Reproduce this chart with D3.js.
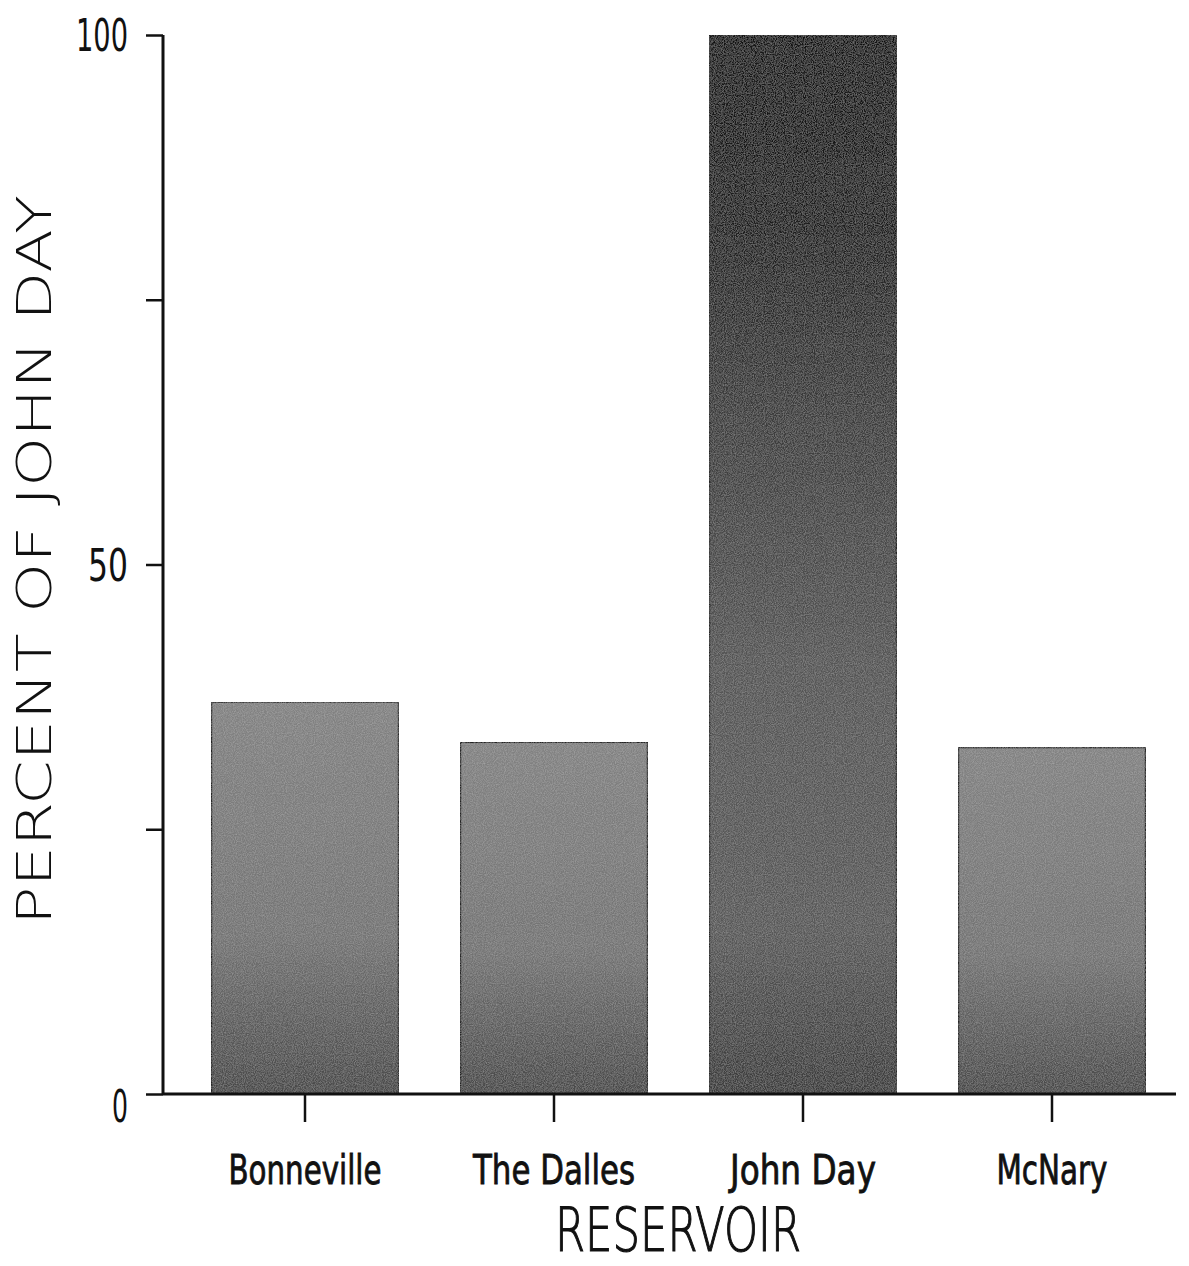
<!DOCTYPE html>
<html>
<head>
<meta charset="utf-8">
<script src="https://cdn.jsdelivr.net/npm/d3@7"></script>
<style>
  body { margin: 0; background: #fff; }
  svg { display: block; }
  text { fill: #111; }
</style>
</head>
<body>
<div id="chart"></div>
<script>
// Data
const reservoirs = ["Bonneville", "The Dalles", "John Day", "McNary"];
const percentValues = [37.0, 33.2, 100, 32.7];
const yTicks = [0, 25, 50, 75, 100];
const yTickLabels = ["0", "", "50", "", "100"];

const W = 1189, H = 1266;
const svg = d3.select("#chart").append("svg")
    .attr("width", W)
    .attr("height", H);

const axisX = 163, axisRight = 1176;
const y0 = 1094, y100 = 35;

const x = d3.scaleBand()
    .domain(reservoirs)
    .range([180.5, 1176.5])
    .paddingInner(0.25)
    .paddingOuter(0.125);

const y = d3.scaleLinear().domain([0, 100]).range([y0, y100]);

// gradients for the shaded bars
const defs = svg.append("defs");
const gLight = defs.append("linearGradient").attr("id", "gLight")
    .attr("x1", 0).attr("y1", 0).attr("x2", 0).attr("y2", 1);
gLight.append("stop").attr("offset", "0%").attr("stop-color", "#828282");
gLight.append("stop").attr("offset", "60%").attr("stop-color", "#737373");
gLight.append("stop").attr("offset", "100%").attr("stop-color", "#484848");

const gDark = defs.append("linearGradient").attr("id", "gDark")
    .attr("x1", 0).attr("y1", 0).attr("x2", 0).attr("y2", 1);
gDark.append("stop").attr("offset", "0%").attr("stop-color", "#111");
gDark.append("stop").attr("offset", "18%").attr("stop-color", "#1e1e1e");
gDark.append("stop").attr("offset", "35%").attr("stop-color", "#3a3a3a");
gDark.append("stop").attr("offset", "60%").attr("stop-color", "#555");
gDark.append("stop").attr("offset", "85%").attr("stop-color", "#585858");
gDark.append("stop").attr("offset", "100%").attr("stop-color", "#3a3a3a");

// grain
const grain = defs.append("filter").attr("id", "grain")
    .attr("x", 0).attr("y", 0).attr("width", 1).attr("height", 1);
grain.append("feTurbulence").attr("type", "fractalNoise")
    .attr("baseFrequency", 0.9).attr("numOctaves", 2).attr("result", "noise");
grain.append("feColorMatrix").attr("in", "noise").attr("type", "matrix")
    .attr("values", "0 0 0 0 1  0 0 0 0 1  0 0 0 0 1  0 0 0 0.3 -0.1")
    .attr("result", "specks");
grain.append("feComposite").attr("in", "specks").attr("in2", "SourceGraphic")
    .attr("operator", "in").attr("result", "sp");
grain.append("feMerge").call(m => {
    m.append("feMergeNode").attr("in", "SourceGraphic");
    m.append("feMergeNode").attr("in", "sp");
});

// bars
svg.append("g")
    .selectAll("rect")
    .data(reservoirs.map((r, i) => ({name: r, value: percentValues[i]})))
    .join("rect")
    .attr("x", d => x(d.name))
    .attr("y", d => y(d.value))
    .attr("width", x.bandwidth())
    .attr("height", d => y(0) - y(d.value))
    .attr("fill", d => d.value >= 100 ? "url(#gDark)" : "url(#gLight)")
    .attr("stroke", "#222")
    .attr("stroke-width", 1.2)
    .attr("filter", "url(#grain)");

// y axis
const yAxis = svg.append("g")
    .attr("transform", `translate(${axisX},0)`)
    .call(d3.axisLeft(y).tickValues(yTicks).tickSize(17).tickFormat((d, i) => yTickLabels[i]).tickSizeOuter(0));
yAxis.select(".domain").attr("stroke", "#111").attr("stroke-width", 3)
    .attr("d", `M0,${y0}V${y100}`);
yAxis.selectAll(".tick line").attr("stroke", "#111").attr("stroke-width", 2.5);
yAxis.selectAll(".tick text")
    .attr("x", -35)
    .attr("font-family", "'DejaVu Sans', sans-serif")
    .attr("font-size", 44)
    .attr("dy", "0.36em")
    .attr("fill", "#111")
    .attr("textLength", d => ({0: 16, 50: 40, 100: 52})[d])
    .attr("lengthAdjust", "spacingAndGlyphs");
yAxis.selectAll(".tick").filter(d => d === 0).select("text").attr("dy", "0.62em");

// x axis
const xAxis = svg.append("g")
    .attr("transform", `translate(0,${y0})`)
    .call(d3.axisBottom(x).tickSize(28).tickSizeOuter(0).tickPadding(33));
xAxis.select(".domain").attr("stroke", "#111").attr("stroke-width", 3)
    .attr("d", `M${axisX},0H${axisRight}`);
xAxis.selectAll(".tick line").attr("stroke", "#111").attr("stroke-width", 2.5);
xAxis.selectAll(".tick text")
    .attr("font-family", "'DejaVu Sans Condensed', 'DejaVu Sans', sans-serif")
    .attr("font-size", 41)
    .attr("fill", "#111")
    .attr("stroke", "#111")
    .attr("stroke-width", 0.8)
    .attr("textLength", d => ({"Bonneville": 153, "The Dalles": 162, "John Day": 146, "McNary": 111})[d])
    .attr("lengthAdjust", "spacingAndGlyphs");

// axis titles
svg.append("text")
    .attr("x", 678)
    .attr("y", 1251)
    .attr("text-anchor", "middle")
    .attr("font-family", "'DejaVu Sans', sans-serif")
    .attr("font-weight", 200)
    .attr("font-size", 60)
    .attr("stroke", "#111")
    .attr("stroke-width", 1.2)
    .attr("textLength", 246)
    .attr("lengthAdjust", "spacingAndGlyphs")
    .text("RESERVOIR");

svg.append("text")
    .attr("transform", "translate(51,560) rotate(-90)")
    .attr("text-anchor", "middle")
    .attr("font-family", "'DejaVu Sans', sans-serif")
    .attr("font-weight", 200)
    .attr("font-size", 48)
    .attr("textLength", 730)
    .attr("lengthAdjust", "spacingAndGlyphs")
    .text("PERCENT OF JOHN DAY");
</script>
</body>
</html>
